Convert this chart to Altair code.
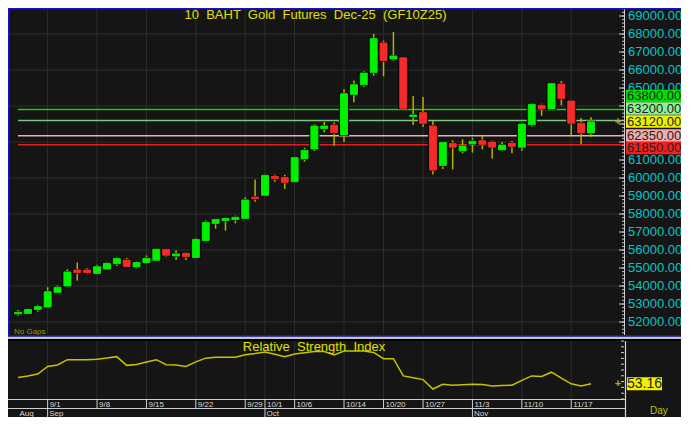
import altair as alt
import pandas as pd

# ---------------- data ----------------
dates = ["8/27", "8/28", "8/29", "9/1", "9/2", "9/3", "9/4", "9/5", "9/8", "9/9",
         "9/10", "9/11", "9/12", "9/15", "9/16", "9/17", "9/18", "9/19", "9/22", "9/23",
         "9/24", "9/25", "9/26", "9/29", "9/30", "10/1", "10/2", "10/3", "10/6", "10/7",
         "10/8", "10/9", "10/10", "10/14", "10/15", "10/16", "10/17", "10/20", "10/21", "10/22",
         "10/24", "10/27", "10/28", "10/29", "10/30", "10/31", "11/3", "11/4", "11/5", "11/6",
         "11/7", "11/10", "11/11", "11/12", "11/13", "11/14", "11/17", "11/18", "11/19"]

opens = [52450, 52480, 52700, 52830, 53650, 54000, 54890, 54890, 54700, 54940,
         55240, 55440, 55060, 55300, 55430, 56040, 55670, 55820, 55590, 56520,
         57480, 57630, 57690, 57760, 58940, 59040, 60090, 60040, 59790, 61060,
         61610, 62740, 62940, 62390, 64650, 65180, 65870, 67500, 66610, 66680,
         63420, 63630, 62890, 60700, 61910, 61500, 61890, 62070, 62000, 61560,
         61940, 61710, 62960, 64040, 63830, 65220, 64280, 63040, 62500]
highs = [52670, 52740, 52940, 53930, 54040, 54930, 55300, 54980, 55180, 55330,
         55590, 55560, 55390, 55700, 56100, 56040, 55980, 55890, 56670, 57650,
         57700, 57820, 57910, 58930, 59910, 60220, 60200, 60180, 61180, 61680,
         62980, 63110, 63090, 64930, 65410, 65930, 68000, 67630, 68110, 66680,
         64560, 64500, 63180, 61980, 62090, 62150, 62240, 62370, 62070, 62000,
         62060, 63070, 64150, 64130, 65240, 65390, 64280, 63330, 63370]
lows = [52350, 52460, 52570, 52830, 53650, 53930, 54300, 54650, 54700, 54890,
        55110, 55040, 54980, 55240, 55430, 55630, 55440, 55440, 55590, 56440,
        57180, 57070, 57480, 57740, 58680, 59040, 59790, 59390, 59790, 60910,
        61500, 62540, 61790, 62020, 64210, 65060, 65680, 65650, 66520, 63870,
        62940, 62850, 60200, 60500, 60480, 61370, 61410, 61590, 61090, 61480,
        61370, 61520, 62850, 63460, 63830, 64040, 62370, 61890, 62290]
closes = [52540, 52700, 52850, 53680, 53930, 54780, 54740, 54740, 55070, 55260,
          55520, 55090, 55300, 55540, 56040, 55710, 55780, 55630, 56590, 57540,
          57700, 57760, 57820, 58780, 58850, 60150, 59960, 59760, 61130, 61540,
          62890, 62890, 62520, 64680, 65180, 65830, 67740, 66520, 66780, 63870,
          63500, 63040, 60440, 61980, 61710, 61780, 62040, 61870, 61710, 61830,
          61760, 63000, 64090, 63830, 65240, 64410, 63040, 62500, 63120]
rsi = [58.5, 59.8, 61.5, 68.0, 69.3, 73.9, 73.9, 73.9, 74.3, 75.3,
       76.5, 69.0, 69.7, 71.9, 73.9, 69.5, 69.3, 68.0, 72.0, 75.2,
       76.0, 76.0, 76.0, 78.1, 79.2, 80.6, 78.5, 76.5, 78.7, 79.8,
       81.0, 81.0, 78.0, 81.4, 81.4, 81.4, 80.1, 74.7, 74.7, 59.9,
       58.3, 56.7, 48.6, 52.7, 51.9, 52.3, 52.7, 52.5, 51.3, 51.6,
       51.9, 56.0, 59.9, 59.4, 63.1, 58.0, 53.1, 51.3, 53.16]

# price labels visible on the right axis (62000-64000 are hidden behind the level boxes)
price_ticks = [52000, 53000, 54000, 55000, 56000, 57000, 58000, 59000, 60000,
               61000, 65000, 66000, 67000, 68000, 69000]
tick_marks = list(range(52000, 69001, 1000))
grid_prices = list(range(52000, 68001, 2000))
date_labels = ["9/1", "9/8", "9/15", "9/22", "9/29", "10/1", "10/6", "10/14",
               "10/20", "10/27", "11/3", "11/10", "11/17"]
month_names = ["Aug", "Sep", "Oct", "Nov"]
month_first = ["8/27", "9/1", "10/1", "11/3"]
levels = [63800, 63200, 63120, 62350, 61850]
line_levels = [63800, 63200, 62350, 61850]
last_rsi = 53.16
SP = " \u00a0"  # wide word gap as in the reference
title = SP.join(["10", "BAHT", "Gold", "Futures", "Dec-25", "(GF10Z25)"])
rsi_title = SP.join(["Relative", "Strength", "Index"])

# ---------------- styling ----------------
FONT = "Liberation Sans"
BG = "#151515"
GRID = "#2e2e2e"
GREEN = "#00f000"
RED = "#f52a2a"
WICK = "#b4b000"
CYAN = "#00c8c8"
YELLOW = "#e0e000"
line_colors = ["#1ec81e", "#7cc87c", "#e6b4b4", "#e01e1e"]
box_colors = ["#00e000", "#90f090", "#f0f000", "#f4aaaa", "#f02020"]
box_offsets = [-13.6, -11.9, -0.3, -0.2, 3.3]

X = alt.Scale(domain=[0, 58], range=[5, 588], nice=False, zero=False)
YP = alt.Scale(domain=[52000, 69000], range=[314, 8], nice=False, zero=False)
YR = alt.Scale(domain=[40, 90], range=[391, 333], nice=False, zero=False)


def xq(f="idx"):
    return alt.X(f"{f}:Q", scale=X, axis=None)


def yp(f):
    return alt.Y(f"{f}:Q", scale=YP, axis=None)


def yr(f):
    return alt.Y(f"{f}:Q", scale=YR, axis=None)


one = pd.DataFrame({"a": [0]})

cdf = pd.DataFrame({"idx": range(len(dates)), "date": dates, "open": opens,
                    "high": highs, "low": lows, "close": closes})
cdf["dir"] = ["up" if c >= o else "down" for o, c in zip(opens, closes)]

grid_idx = [dates.index(d) for d in date_labels]
gdf = pd.DataFrame({"idx": grid_idx, "lab": date_labels})
mdf = pd.DataFrame({"idx": [dates.index(d) for d in month_first], "lab": month_names})
sep_date = gdf[~gdf["idx"].isin(mdf["idx"])]
sep_month = mdf[mdf["idx"] > 0]

layers = []

# grid
layers.append(alt.Chart(pd.DataFrame({"p": grid_prices})).mark_rule(color=GRID, strokeWidth=1)
              .encode(y=yp("p"), x=alt.value(0), x2=alt.value(616)))
layers.append(alt.Chart(gdf).mark_rule(color=GRID, strokeWidth=1)
              .encode(x=xq(), y=alt.value(0), y2=alt.value(326)))
layers.append(alt.Chart(gdf).mark_rule(color=GRID, strokeWidth=1)
              .encode(x=xq(), y=alt.value(333), y2=alt.value(391)))

# level lines
ldf = pd.DataFrame({"level": line_levels, "c": line_colors})
layers.append(alt.Chart(ldf).mark_rule(strokeWidth=1.5)
              .encode(y=yp("level"), x=alt.XDatum(0, scale=X, axis=None), x2=alt.value(616),
                      color=alt.Color("c:N", scale=None)))

# candles
layers.append(alt.Chart(cdf).mark_rule(color=WICK, strokeWidth=1.5)
              .encode(x=xq(), y=yp("low"), y2=alt.Y2("high:Q")))
layers.append(alt.Chart(cdf).mark_bar(size=8, color="#000000", stroke="#000000", strokeWidth=2)
              .encode(x=xq(), y=yp("open"), y2=alt.Y2("close:Q")))
dir_scale = alt.Scale(domain=["up", "down"], range=[GREEN, RED])
layers.append(alt.Chart(cdf).mark_bar(size=7, strokeWidth=1)
              .encode(x=xq(), y=yp("open"), y2=alt.Y2("close:Q"),
                      color=alt.Color("dir:N", scale=dir_scale, legend=None),
                      stroke=alt.Stroke("dir:N", scale=dir_scale, legend=None)))

# right price axis
tdf = pd.DataFrame({"p": list(range(51400, 69401, 200))})
layers.append(alt.Chart(tdf).mark_rule(color="#bdbdbd", strokeWidth=1)
              .encode(y=yp("p"), x=alt.value(614), x2=alt.value(616)))
layers.append(alt.Chart(pd.DataFrame({"p": tick_marks})).mark_rule(color="#d0d0d0", strokeWidth=1)
              .encode(y=yp("p"), x=alt.value(611), x2=alt.value(616)))
layers.append(alt.Chart(one).mark_rule(color="#d0d0d0", strokeWidth=1)
              .encode(x=alt.value(616.5), y=alt.value(0), y2=alt.value(327)))
pdf = pd.DataFrame({"p": price_ticks, "t": [f"{v:.2f}" for v in price_ticks]})
layers.append(alt.Chart(pdf).mark_text(align="left", baseline="middle", font=FONT,
                                       fontSize=13, color=CYAN)
              .encode(y=yp("p"), x=alt.value(620), text="t:N"))

# level label boxes (stacked so that they do not overlap)
for lv, bg, off in zip(levels, box_colors, box_offsets):
    d = pd.DataFrame({"level": [lv], "t": [f"{lv:.2f}"]})
    layers.append(alt.Chart(d).mark_tick(orient="horizontal", size=57, thickness=12.5,
                                         opacity=1, color=bg, yOffset=off)
                  .encode(y=yp("level"), x=alt.value(646.5)))
    layers.append(alt.Chart(d).mark_text(align="left", baseline="middle", font=FONT,
                                         fontSize=13, color="#222222", yOffset=off)
                  .encode(y=yp("level"), x=alt.value(619), text="t:N"))
layers.append(alt.Chart(pd.DataFrame({"p": [closes[-1]]}))
              .mark_text(text="+", font=FONT, fontSize=11, fontWeight="bold", color=WICK,
                         baseline="middle")
              .encode(y=yp("p"), x=alt.value(610)))

# titles and notes
layers.append(alt.Chart(one).mark_text(text=title, font=FONT, fontSize=13, color=YELLOW,
                                       align="center", baseline="alphabetic")
              .encode(x=alt.value(307.5), y=alt.value(11)))
layers.append(alt.Chart(one).mark_text(text="No Gaps", font=FONT, fontSize=8, color="#9a9a00",
                                       align="left", baseline="middle")
              .encode(x=alt.value(6), y=alt.value(323.5)))

# frame / separators
layers.append(alt.Chart(one).mark_rule(color="#1414c8", strokeWidth=1.5)
              .encode(y=alt.value(0.75), x=alt.value(0), x2=alt.value(673)))
layers.append(alt.Chart(one).mark_rule(color="#1414c8", strokeWidth=1.5)
              .encode(x=alt.value(0.75), y=alt.value(0), y2=alt.value(328)))
layers.append(alt.Chart(one).mark_rule(color="#1414c8", strokeWidth=1.8)
              .encode(y=alt.value(327.9), x=alt.value(0), x2=alt.value(673)))
layers.append(alt.Chart(one).mark_rule(color="#c4c4c4", strokeWidth=2.3)
              .encode(y=alt.value(329.9), x=alt.value(0), x2=alt.value(673)))
layers.append(alt.Chart(one).mark_rule(color="#000000", strokeWidth=2)
              .encode(y=alt.value(332), x=alt.value(0), x2=alt.value(673)))

# RSI panel
rdf = pd.DataFrame({"idx": range(len(rsi)), "rsi": rsi})
layers.append(alt.Chart(pd.DataFrame({"r": list(range(40, 91, 5))})).mark_rule(color="#cfcfcf")
              .encode(y=yr("r"), x=alt.value(613), x2=alt.value(616)))
layers.append(alt.Chart(one).mark_rule(color="#d8d8d8", strokeWidth=1.2)
              .encode(x=alt.value(617.5), y=alt.value(333), y2=alt.value(409)))
layers.append(alt.Chart(rdf).mark_line(color="#c4c400", strokeWidth=1.5)
              .encode(x=xq(), y=yr("rsi")))
layers.append(alt.Chart(one).mark_text(text=rsi_title, font=FONT, fontSize=13, color=YELLOW,
                                       align="center", baseline="alphabetic")
              .encode(x=alt.value(306), y=alt.value(343)))
rl = pd.DataFrame({"r": [last_rsi], "t": [f"{last_rsi:.2f}"]})
layers.append(alt.Chart(rl).mark_tick(orient="horizontal", size=35, thickness=13, opacity=1,
                                      color="#f0f000")
              .encode(y=yr("r"), x=alt.value(636.5)))
layers.append(alt.Chart(rl).mark_text(font=FONT, fontSize=14, color="#222222",
                                      align="center", baseline="middle")
              .encode(y=yr("r"), x=alt.value(636.5), text="t:N"))
layers.append(alt.Chart(rl).mark_text(text="+", font=FONT, fontSize=11, fontWeight="bold",
                                      color=WICK, baseline="middle")
              .encode(y=yr("r"), x=alt.value(610)))

# date rows
layers.append(alt.Chart(one).mark_rule(color="#cfcfcf", strokeWidth=1)
              .encode(y=alt.value(391.5), x=alt.value(0), x2=alt.value(617)))
layers.append(alt.Chart(one).mark_rule(color="#cfcfcf", strokeWidth=1)
              .encode(y=alt.value(400.5), x=alt.value(0), x2=alt.value(617)))
layers.append(alt.Chart(sep_date).mark_rule(color="#cfcfcf", strokeWidth=1)
              .encode(x=xq(), y=alt.value(391.5), y2=alt.value(400.5)))
layers.append(alt.Chart(sep_month).mark_rule(color="#cfcfcf", strokeWidth=1)
              .encode(x=xq(), y=alt.value(391.5), y2=alt.value(409)))
layers.append(alt.Chart(gdf).mark_text(font=FONT, fontSize=8, color="#d8d8d8",
                                       align="left", baseline="alphabetic", dx=2)
              .encode(x=xq(), y=alt.value(399), text="lab:N"))
layers.append(alt.Chart(mdf).mark_text(font=FONT, fontSize=8, color="#d8d8d8",
                                       align="left", baseline="alphabetic", dx=1.5)
              .encode(x=xq(), y=alt.value(408), text="lab:N"))
layers.append(alt.Chart(one).mark_text(text="Day", font=FONT, fontSize=10, color="#c0c000",
                                       align="left", baseline="alphabetic")
              .encode(x=alt.value(642), y=alt.value(406)))

chart = (alt.layer(*layers)
         .resolve_scale(y="independent", color="independent", stroke="independent")
         .properties(width=673, height=409, padding=0,
                     autosize=alt.AutoSizeParams(type="none"), background=BG)
         .configure_view(stroke=None))

chart.save("out.html", embed_options={"renderer": "svg", "actions": False})
